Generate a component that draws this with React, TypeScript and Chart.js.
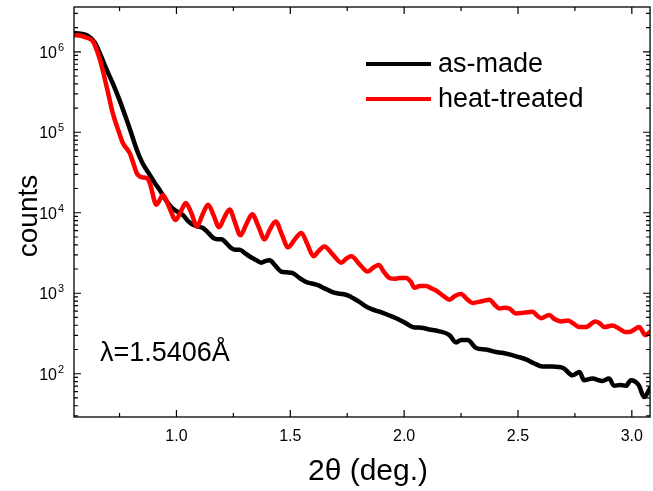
import React, { useEffect, useRef } from 'react';
import { Chart, registerables } from 'chart.js';

Chart.register(...registerables);

// ---- data ----
const seriesNames = ['as-made', 'heat-treated'];
const seriesColors = ['#000000', '#ff0000'];

const asMadeX = [
  0.55, 0.58, 0.61, 0.64, 0.664, 0.69, 0.72, 0.75, 0.782, 0.8, 0.826, 0.85, 0.883, 0.905, 0.927, 0.95, 0.978, 1.0,
  1.029, 1.05, 1.073, 1.095, 1.117, 1.14, 1.16, 1.18, 1.197, 1.22, 1.241, 1.26, 1.278, 1.3, 1.32, 1.345, 1.373,
  1.39, 1.409, 1.435, 1.46, 1.485, 1.511, 1.54, 1.57, 1.595, 1.621, 1.65, 1.68, 1.705, 1.73, 1.755, 1.775, 1.8,
  1.83, 1.86, 1.892, 1.93, 1.965, 2.0, 2.038, 2.075, 2.111, 2.15, 2.199, 2.228, 2.25, 2.279, 2.316, 2.36, 2.404,
  2.43, 2.462, 2.5, 2.535, 2.57, 2.608, 2.65, 2.7, 2.74, 2.77, 2.79, 2.827, 2.871, 2.9, 2.922, 2.95, 2.974, 2.996,
  3.03, 3.054, 3.08,
];
const asMadeCounts = [
  1710000, 1680000, 1590000, 1320000, 955000, 631000, 407000, 251000, 141000, 100000, 60300, 41700, 29500, 23400,
  19100, 14800, 11700, 10500, 9330, 7940, 7080, 6760, 6460, 5620, 4900, 4680, 4680, 4170, 3630, 3470, 3470, 3160,
  2880, 2630, 2400, 2510, 2570, 2190, 1860, 1820, 1780, 1550, 1380, 1320, 1260, 1150, 1050, 1000, 977, 933, 871,
  794, 692, 631, 589, 537, 490, 437, 380, 372, 355, 339, 302, 245, 263, 263, 209, 200, 186, 182, 174, 162, 151, 135,
  123, 123, 117, 95.5, 105, 83.2, 87.1, 81.3, 87.1, 70.8, 72.4, 70.8, 83.2, 72.4, 51.3, 66.1,
];

const heatX = [
  0.55, 0.58, 0.61, 0.633, 0.664, 0.694, 0.72, 0.745, 0.764, 0.795, 0.81, 0.826, 0.85, 0.87, 0.883, 0.912, 0.941,
  0.968, 0.997, 1.02, 1.041, 1.065, 1.09, 1.115, 1.139, 1.163, 1.187, 1.21, 1.234, 1.257, 1.281, 1.307, 1.333, 1.36,
  1.387, 1.41, 1.436, 1.463, 1.49, 1.52, 1.548, 1.575, 1.602, 1.626, 1.65, 1.687, 1.724, 1.746, 1.768, 1.804, 1.84,
  1.865, 1.889, 1.91, 1.935, 1.96, 1.98, 2.009, 2.03, 2.045, 2.07, 2.096, 2.12, 2.147, 2.175, 2.199, 2.225, 2.25,
  2.275, 2.3, 2.34, 2.374, 2.4, 2.418, 2.44, 2.462, 2.491, 2.53, 2.564, 2.585, 2.601, 2.637, 2.66, 2.689, 2.72, 2.74,
  2.77, 2.798, 2.84, 2.857, 2.88, 2.915, 2.95, 2.97, 2.989, 3.017, 3.032, 3.06, 3.08,
];
const heatCounts = [
  1610000, 1585000, 1480000, 1350000, 794000, 363000, 174000, 105000, 74100, 55000, 41700, 30900, 27500, 26900,
  23400, 12600, 16600, 11700, 8130, 10500, 13200, 10000, 6760, 9550, 12600, 9330, 6610, 8710, 11000, 7590, 5250,
  7240, 9550, 6760, 4680, 6170, 7760, 5370, 3720, 4680, 5620, 4070, 2880, 3390, 3800, 3020, 2400, 2690, 2880, 2290,
  1860, 2090, 2240, 1860, 1550, 1510, 1550, 1550, 1380, 1170, 1230, 1230, 1150, 1050, 912, 832, 933, 977, 851, 759,
  794, 832, 708, 646, 661, 646, 562, 575, 589, 525, 490, 537, 479, 447, 457, 427, 380, 380, 447, 427, 380, 398, 355,
  331, 331, 363, 380, 302, 331,
];

const xTickValues = [1.0, 1.5, 2.0, 2.5, 3.0];
const xTickLabels = ['1.0', '1.5', '2.0', '2.5', '3.0'];
const xMinorTicks = [0.75, 1.25, 1.75, 2.25, 2.75];
const yDecadeExponents = [2, 3, 4, 5, 6];
const xRange = [0.55, 3.08];
const yRange = [29, 3.6e6];
const xTitle = '2θ (deg.)';
const yTitle = 'counts';
const annotationText = 'λ=1.5406Å';

const FONT = '"Liberation Sans", Arial, Helvetica, sans-serif';

const decorPlugin = {
  id: 'decor',
  afterDraw(chart: any) {
    const { ctx, chartArea } = chart;
    const xs = chart.scales.x;
    const ys = chart.scales.y;
    const { left, right, top, bottom } = chartArea;
    ctx.save();
    ctx.strokeStyle = '#000';
    ctx.fillStyle = '#000';
    ctx.lineWidth = 1.3;
    ctx.strokeRect(left, top, right - left, bottom - top);

    const MAJ = 7;
    const MIN = 4;
    ctx.lineWidth = 1.2;
    ctx.beginPath();
    xTickValues.forEach((v) => {
      const px = xs.getPixelForValue(v);
      ctx.moveTo(px, bottom);
      ctx.lineTo(px, bottom - MAJ);
      ctx.moveTo(px, top);
      ctx.lineTo(px, top + MAJ);
    });
    xMinorTicks.forEach((v) => {
      const px = xs.getPixelForValue(v);
      ctx.moveTo(px, bottom);
      ctx.lineTo(px, bottom - MIN);
      ctx.moveTo(px, top);
      ctx.lineTo(px, top + MIN);
    });
    for (let e = 1; e <= 6; e++) {
      for (let m = 1; m <= 9; m++) {
        const v = m * Math.pow(10, e);
        if (v < yRange[0] || v > yRange[1]) continue;
        const py = ys.getPixelForValue(v);
        const len = m === 1 ? MAJ : MIN;
        ctx.moveTo(left, py);
        ctx.lineTo(left + len, py);
        ctx.moveTo(right, py);
        ctx.lineTo(right - len, py);
      }
    }
    ctx.stroke();

    // y tick labels 10^n
    yDecadeExponents.forEach((e) => {
      const py = ys.getPixelForValue(Math.pow(10, e));
      ctx.font = `16px ${FONT}`;
      ctx.textAlign = 'right';
      ctx.textBaseline = 'alphabetic';
      ctx.fillText('10', 57, py + 6);
      ctx.font = `11px ${FONT}`;
      ctx.textAlign = 'left';
      ctx.fillText(String(e), 58, py - 1);
    });

    // axis titles
    ctx.font = `30px ${FONT}`;
    ctx.textAlign = 'center';
    ctx.textBaseline = 'alphabetic';
    ctx.fillText(xTitle, 368, 480);
    ctx.save();
    ctx.translate(37, 216);
    ctx.rotate(-Math.PI / 2);
    ctx.font = `28px ${FONT}`;
    ctx.fillText(yTitle, 0, 0);
    ctx.restore();

    // annotation
    ctx.font = `27px ${FONT}`;
    ctx.textAlign = 'left';
    ctx.fillText(annotationText, 100, 361);

    // legend
    const legendRows = [64, 99];
    seriesNames.forEach((name, i) => {
      const y = legendRows[i];
      ctx.strokeStyle = seriesColors[i];
      ctx.lineWidth = 4;
      ctx.beginPath();
      ctx.moveTo(366, y);
      ctx.lineTo(431, y);
      ctx.stroke();
      ctx.font = `27px ${FONT}`;
      ctx.textAlign = 'left';
      ctx.textBaseline = 'middle';
      ctx.fillStyle = '#000';
      ctx.fillText(name, 438, y + 1);
    });
    ctx.restore();
  },
};

export default function App() {
  const canvasRef = useRef<HTMLCanvasElement | null>(null);

  useEffect(() => {
    const canvas = canvasRef.current;
    if (!canvas) return;
    const toPoints = (xsArr: number[], ysArr: number[]) => xsArr.map((x, i) => ({ x, y: ysArr[i] }));
    const lineStyle = {
      borderWidth: 4.5,
      pointRadius: 0,
      cubicInterpolationMode: 'monotone',
      fill: false,
      borderJoinStyle: 'round',
      borderCapStyle: 'round',
    };
    const chart = new Chart(canvas, {
      type: 'line',
      data: {
        datasets: [
          {
            label: seriesNames[1],
            data: toPoints(heatX, heatCounts),
            borderColor: seriesColors[1],
            ...lineStyle,
          },
          {
            label: seriesNames[0],
            data: toPoints(asMadeX, asMadeCounts),
            borderColor: seriesColors[0],
            ...lineStyle,
          },
        ],
      },
      options: {
        responsive: false,
        animation: false,
        devicePixelRatio: 1,
        layout: { padding: { top: 7, right: 1.5, left: 0, bottom: 0 } },
        plugins: { legend: { display: false }, tooltip: { enabled: false }, title: { display: false } },
        scales: {
          x: {
            type: 'linear',
            min: xRange[0],
            max: xRange[1],
            grid: { display: false, drawTicks: false },
            border: { display: false },
            afterBuildTicks: (scale: any) => {
              scale.ticks = xTickValues.map((v) => ({ value: v }));
            },
            afterFit: (scale: any) => {
              scale.height = 74;
            },
            ticks: {
              padding: 10,
              maxRotation: 0,
              autoSkip: false,
              color: '#000',
              font: { family: FONT, size: 16 },
              callback: (v: any) => {
                const idx = xTickValues.findIndex((t) => Math.abs(t - Number(v)) < 1e-6);
                return idx >= 0 ? xTickLabels[idx] : '';
              },
            },
          },
          y: {
            type: 'logarithmic',
            min: yRange[0],
            max: yRange[1],
            grid: { display: false, drawTicks: false },
            border: { display: false },
            ticks: { display: false },
            afterFit: (scale: any) => {
              scale.width = 74;
            },
          },
        },
      },
      plugins: [decorPlugin],
    } as any);
    return () => chart.destroy();
  }, []);

  return (
    <div style={{ position: 'absolute', left: 0, top: 0, width: 653, height: 491, background: '#fff' }}>
      <canvas ref={canvasRef} width={653} height={491} style={{ width: 653, height: 491 }} />
    </div>
  );
}
